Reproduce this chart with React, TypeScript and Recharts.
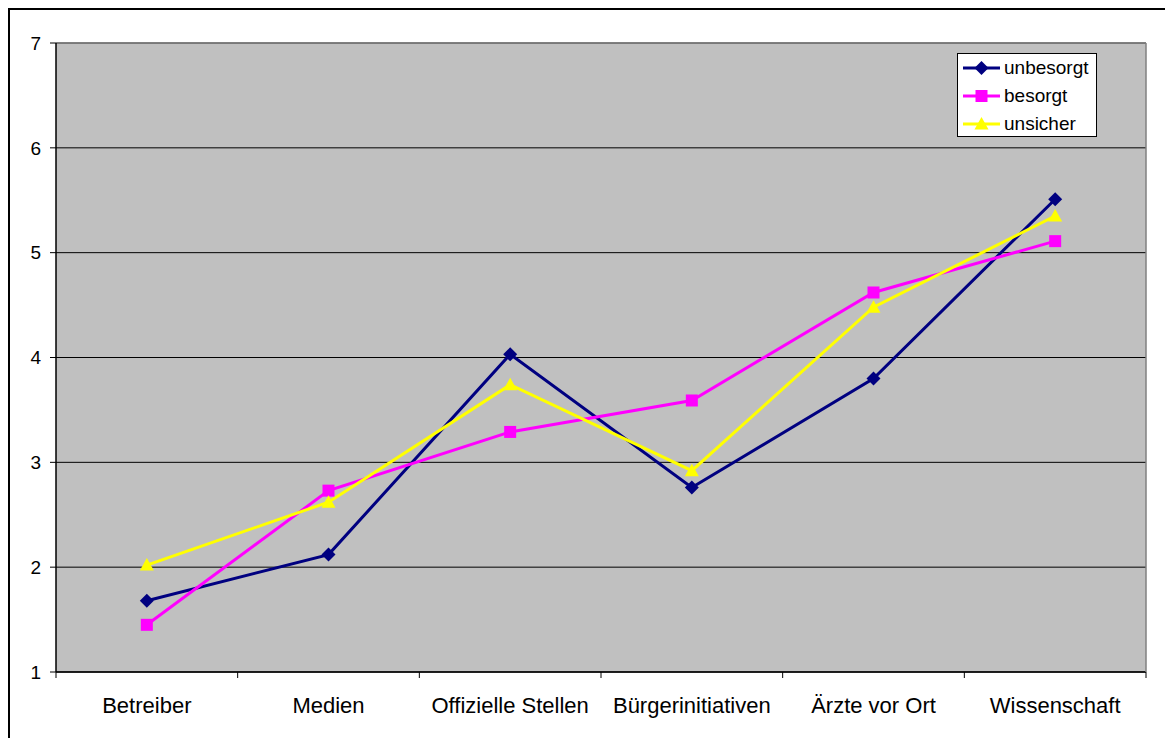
import { LineChart, Line, XAxis, YAxis, CartesianGrid, Legend } from "recharts";

const categories = [
  "Betreiber",
  "Medien",
  "Offizielle Stellen",
  "Bürgerinitiativen",
  "Ärzte vor Ort",
  "Wissenschaft",
];
const unbesorgt = [1.68, 2.12, 4.03, 2.76, 3.8, 5.51];
const besorgt = [1.45, 2.73, 3.29, 3.59, 4.62, 5.11];
const unsicher = [2.02, 2.62, 3.74, 2.92, 4.48, 5.35];
const yTicks = [1, 2, 3, 4, 5, 6, 7];

const FONT = '"Liberation Sans", Arial, sans-serif';
const NAVY = "#000080";
const MAGENTA = "#FF00FF";
const YELLOW = "#FFFF00";

// x = band centre (i + 0.5) on a 0..6 numeric axis, so ticks can sit on band edges
const data = categories.map((name, i) => ({
  x: i + 0.5,
  name,
  unbesorgt: unbesorgt[i],
  besorgt: besorgt[i],
  unsicher: unsicher[i],
}));
const xTicks = categories.flatMap((_, i) => [i, i + 0.5]).concat([categories.length]);

function Marker({ kind, cx, cy, color }: { kind: string; cx: number; cy: number; color: string }) {
  if (kind === "diamond") {
    return <path d={`M${cx},${cy - 7}L${cx + 7},${cy}L${cx},${cy + 7}L${cx - 7},${cy}Z`} fill={color} />;
  }
  if (kind === "square") {
    return <rect x={cx - 6} y={cy - 6} width={12} height={12} fill={color} />;
  }
  return <path d={`M${cx},${cy - 7}L${cx + 7},${cy + 5.5}L${cx - 7},${cy + 5.5}Z`} fill={color} />;
}

const makeDot = (kind: string, color: string) => (props: any) => (
  <g key={`${kind}-${props.index}`}>
    <Marker kind={kind} cx={props.cx} cy={props.cy} color={color} />
  </g>
);

const series = [
  { key: "unbesorgt", color: NAVY, kind: "diamond" },
  { key: "besorgt", color: MAGENTA, kind: "square" },
  { key: "unsicher", color: YELLOW, kind: "triangle" },
];

function XTick(props: any) {
  const { x, y, payload } = props;
  const v = payload.value as number;
  if (Number.isInteger(v)) {
    return <line x1={x} y1={y} x2={x} y2={y + 6} stroke="#000" strokeWidth={1} />;
  }
  return (
    <text x={x} y={y + 41} textAnchor="middle" fontSize={22} fontFamily={FONT} fill="#000">
      {categories[Math.floor(v)]}
    </text>
  );
}

function LegendBox() {
  return (
    <div
      style={{
        background: "#fff",
        border: "1px solid #000",
        width: 138,
        height: 82,
        fontFamily: FONT,
        fontSize: 19,
        color: "#000",
      }}
    >
      {series.map((s) => (
        <div key={s.key} style={{ display: "flex", alignItems: "center", height: 28 }}>
          <svg width={46} height={20} style={{ marginLeft: 5 }}>
            <line x1={0} y1={10} x2={37} y2={10} stroke={s.color} strokeWidth={3} />
            <Marker kind={s.kind} cx={18.5} cy={10} color={s.color} />
          </svg>
          <span style={{ marginLeft: -5 }}>{s.key}</span>
        </div>
      ))}
    </div>
  );
}

export default function App() {
  return (
    <div
      style={{
        width: 1165,
        height: 730,
        borderTop: "2px solid #000",
        borderLeft: "2px solid #000",
        boxSizing: "border-box",
        background: "#fff",
      }}
    >
      <LineChart
        width={1163}
        height={728}
        data={data}
        margin={{ top: 32, right: 26, bottom: 16, left: 0 }}
      >
        <CartesianGrid
          vertical={false}
          horizontal
          fill="#C0C0C0"
          stroke="#000"
          strokeWidth={1}
          fillOpacity={1}
        />
        <XAxis
          dataKey="x"
          type="number"
          domain={[0, 6]}
          ticks={xTicks}
          interval={0}
          tick={<XTick />}
          tickLine={false}
          tickSize={0}
          tickMargin={0}
          height={50}
          axisLine={{ stroke: "#000", strokeWidth: 1.5 }}
        />
        <XAxis
          xAxisId="top"
          orientation="top"
          dataKey="x"
          type="number"
          domain={[0, 6]}
          height={1}
          tick={false}
          tickLine={false}
          axisLine={{ stroke: "#808080", strokeWidth: 1.5 }}
        />
        <YAxis
          domain={[1, 7]}
          ticks={yTicks}
          interval={0}
          width={46}
          tickSize={6}
          tickMargin={9}
          tick={{ fontSize: 19, fontFamily: FONT, fill: "#000" }}
          tickLine={{ stroke: "#000" }}
          axisLine={{ stroke: "#000", strokeWidth: 1.5 }}
        />
        <YAxis
          yAxisId="right"
          orientation="right"
          domain={[1, 7]}
          width={1}
          tick={false}
          tickLine={false}
          axisLine={{ stroke: "#808080", strokeWidth: 1.5 }}
        />
        <Legend
          layout="vertical"
          align="center"
          verticalAlign="middle"
          content={() => <LegendBox />}
          wrapperStyle={{ position: "absolute", left: 947, top: 43, width: 140, height: 84 }}
        />
        {series.map((s) => (
          <Line
            key={s.key}
            dataKey={s.key}
            stroke={s.color}
            strokeWidth={3}
            dot={makeDot(s.kind, s.color)}
            activeDot={false}
            isAnimationActive={false}
          />
        ))}
      </LineChart>
    </div>
  );
}
